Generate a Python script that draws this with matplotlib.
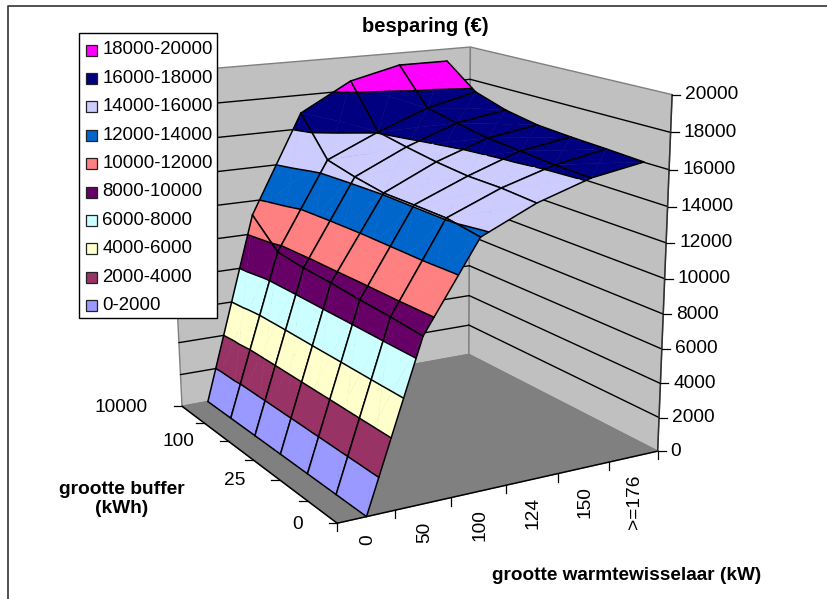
import numpy as np
import matplotlib
matplotlib.use('Agg')
from matplotlib import pyplot as plt

plt.rcParams['font.family'] = ['Liberation Sans', 'DejaVu Sans']

x_labels = ['0', '50', '100', '124', '150', '>=176']
y_labels = ['0', '', '25', '', '100', '', '10000']
z_ticks = [0, 2000, 4000, 6000, 8000, 10000, 12000, 14000, 16000, 18000, 20000]

# besparing per warmtewisselaar, from buffer 0 (front) to buffer 10000 (back)
z_0 = [0, 0, 0, 0, 0, 0, 0]
z_50 = [9100, 9230, 9300, 9420, 9480, 9650, 11150]
z_100 = [13800, 14080, 14090, 14080, 14350, 14720, 16940]
z_124 = [15160, 15290, 15300, 15470, 15730, 16040, 18570]
z_150 = [16100, 16170, 16340, 16490, 16800, 17160, 19270]
z_176 = [16590, 16700, 16790, 16920, 17260, 17840, 19260]

band_labels = ['0-2000', '2000-4000', '4000-6000', '6000-8000', '8000-10000',
               '10000-12000', '12000-14000', '14000-16000', '16000-18000', '18000-20000']
band_colors = ['#9999FF', '#993366', '#FFFFCC', '#CCFFFF', '#660066',
               '#FF8080', '#0066CC', '#CCCCFF', '#000080', '#FF00FF']

# box corners (category x, category y, z/zmax) and where they land in the picture
box = [((0, 0, 0), (338, 524)), ((6, 0, 0), (658, 451)), ((6, 6, 0), (468, 355)),
       ((0, 6, 0), (182, 405)), ((6, 0, 1), (671, 94)), ((6, 6, 1), (472, 47)),
       ((0, 6, 1), (165, 73))]


def fitCamera(box):
    A = []
    b = []
    for (x, y, z), (u, v) in box:
        A.append([x, y, z, 1, 0, 0, 0, 0, -u*x, -u*y, -u*z])
        b.append(u)
        A.append([0, 0, 0, 0, x, y, z, 1, -v*x, -v*y, -v*z])
        b.append(v)
    p = np.linalg.lstsq(np.array(A, float), np.array(b, float), rcond=None)[0]
    return np.append(p, 1).reshape(3, 4)


P = fitCamera(box)
zmax = 20000.0


def proj(x, y, z):
    q = P @ np.array([x, y, z/zmax, 1.0])
    return q[0]/q[2], q[1]/q[2]


def clip(poly, level, keepAbove):
    out = []
    n = len(poly)
    for i in range(n):
        a = poly[i]
        b = poly[(i+1) % n]
        inA = a[2] >= level if keepAbove else a[2] <= level
        inB = b[2] >= level if keepAbove else b[2] <= level
        if inA:
            out.append(a)
        if inA != inB:
            t = (level-a[2])/(b[2]-a[2])
            out.append(tuple(a[k]+t*(b[k]-a[k]) for k in range(3)))
    return out


def contourSegment(tri, level):
    pts = []
    for i in range(3):
        a = tri[i]
        b = tri[(i+1) % 3]
        if (a[2]-level)*(b[2]-level) < 0:
            t = (level-a[2])/(b[2]-a[2])
            pts.append(tuple(a[k]+t*(b[k]-a[k]) for k in range(3)))
    return pts


def line3(ax, p, q, color='k', lw=1.1):
    a = proj(*p)
    b = proj(*q)
    ax.plot([a[0], b[0]], [a[1], b[1]], color=color, lw=lw, zorder=2, solid_capstyle='round')


fig = plt.figure(figsize=(8.28, 5.99), dpi=100)
ax = fig.add_axes([0, 0, 1, 1])
ax.set_xlim(0, 828)
ax.set_ylim(599, 0)
ax.axis('off')

# chart frame, only left and top fall inside the picture
ax.plot([8, 8, 828], [599, 6, 6], color='#333333', lw=1.2, zorder=2)

# walls and floor
wall = '#C0C0C0'
edge = '#808080'
for c in [[(0, 6, 0), (6, 6, 0), (6, 6, zmax), (0, 6, zmax)],
          [(6, 6, 0), (6, 0, 0), (6, 0, zmax), (6, 6, zmax)]]:
    ax.fill(*zip(*[proj(*p) for p in c]), facecolor=wall, edgecolor=edge, lw=1.0, zorder=2)
ax.fill(*zip(*[proj(*p) for p in [(0, 0, 0), (6, 0, 0), (6, 6, 0), (0, 6, 0)]]),
        facecolor='#808080', edgecolor=edge, lw=0.8, zorder=2)
for z in z_ticks[1:-1]:
    line3(ax, (0, 6, z), (6, 6, z), lw=1.0)
    line3(ax, (6, 6, z), (6, 0, z), lw=1.0)

# axis lines and ticks
line3(ax, (0, 0, 0), (6, 0, 0))
line3(ax, (0, 0, 0), (0, 6, 0))
line3(ax, (6, 0, 0), (6, 0, zmax), color='#303030')
for i in range(7):
    u, v = proj(i, 0, 0)
    ax.plot([u, u], [v, v+8], color='k', lw=0.9, zorder=2)
for j in range(7):
    u, v = proj(0, j, 0)
    ax.plot([u-8, u], [v, v], color='k', lw=0.9, zorder=2)
for z in z_ticks:
    u, v = proj(6, 0, z)
    ax.plot([u, u+8], [v, v], color='k', lw=0.9, zorder=2)
    ax.text(u+13, v, str(z), fontsize=13.8, ha='left', va='center', color='k', zorder=3)

for i, lab in enumerate(x_labels):
    u, v = proj(i+0.5, 0, 0)
    ax.text(u+1, v+18, lab, fontsize=13.8, rotation=90, ha='center', va='top', zorder=3)
for j, lab in enumerate(y_labels):
    if lab:
        u, v = proj(0, j, 0)
        ax.text(u-34, v+1, lab, fontsize=13.8, ha='right', va='center', zorder=3)

# surface, back to front so nearer cells hide farther ones
Z = np.array([z_0, z_50, z_100, z_124, z_150, z_176], float)
xc = np.arange(Z.shape[0])+0.5
levels = z_ticks
for i in range(Z.shape[0]-2, -1, -1):
    for j in range(Z.shape[1]-2, -1, -1):
        q = [(xc[i], j, Z[i, j]), (xc[i+1], j, Z[i+1, j]),
             (xc[i+1], j+1, Z[i+1, j+1]), (xc[i], j+1, Z[i, j+1])]
        mid = tuple(np.mean([p[k] for p in q]) for k in range(3))
        for k in [2, 1, 3, 0]:
            tri = [q[k], q[(k+1) % 4], mid]
            for b in range(len(band_colors)):
                poly = clip(clip(tri, levels[b], True), levels[b+1], False)
                if len(poly) >= 3:
                    ax.fill(*zip(*[proj(*p) for p in poly]), facecolor=band_colors[b],
                            edgecolor=band_colors[b], lw=0.3, zorder=2)
            for lev in levels:
                seg = contourSegment(tri, lev)
                if len(seg) == 2:
                    line3(ax, seg[0], seg[1])
        for k in range(4):
            line3(ax, q[k], q[(k+1) % 4])

# legend, top entry first
ax.fill([79, 217, 217, 79], [33, 33, 318, 318], facecolor='white', edgecolor='k', lw=1.0, zorder=4)
n = len(band_labels)
for k in range(n):
    b = n-1-k
    yc = 50+k*28.4
    ax.fill([86, 97, 97, 86], [yc-5.5, yc-5.5, yc+5.5, yc+5.5], facecolor=band_colors[b],
            edgecolor='#222222', lw=0.9, zorder=5)
    ax.text(102.5, yc, band_labels[b], fontsize=13.4, ha='left', va='center', zorder=5)

ax.text(425, 27, 'besparing (€)', fontsize=14.5, fontweight='bold', ha='center', va='center', zorder=5)
ax.text(122, 499, 'grootte buffer\n(kWh)', fontsize=13.8, fontweight='bold', ha='center', va='center',
        linespacing=1.2, zorder=5)
ax.text(627, 575, 'grootte warmtewisselaar (kW)', fontsize=13.7, fontweight='bold', ha='center',
        va='center', zorder=5)

fig.savefig('out.png', dpi=100)
